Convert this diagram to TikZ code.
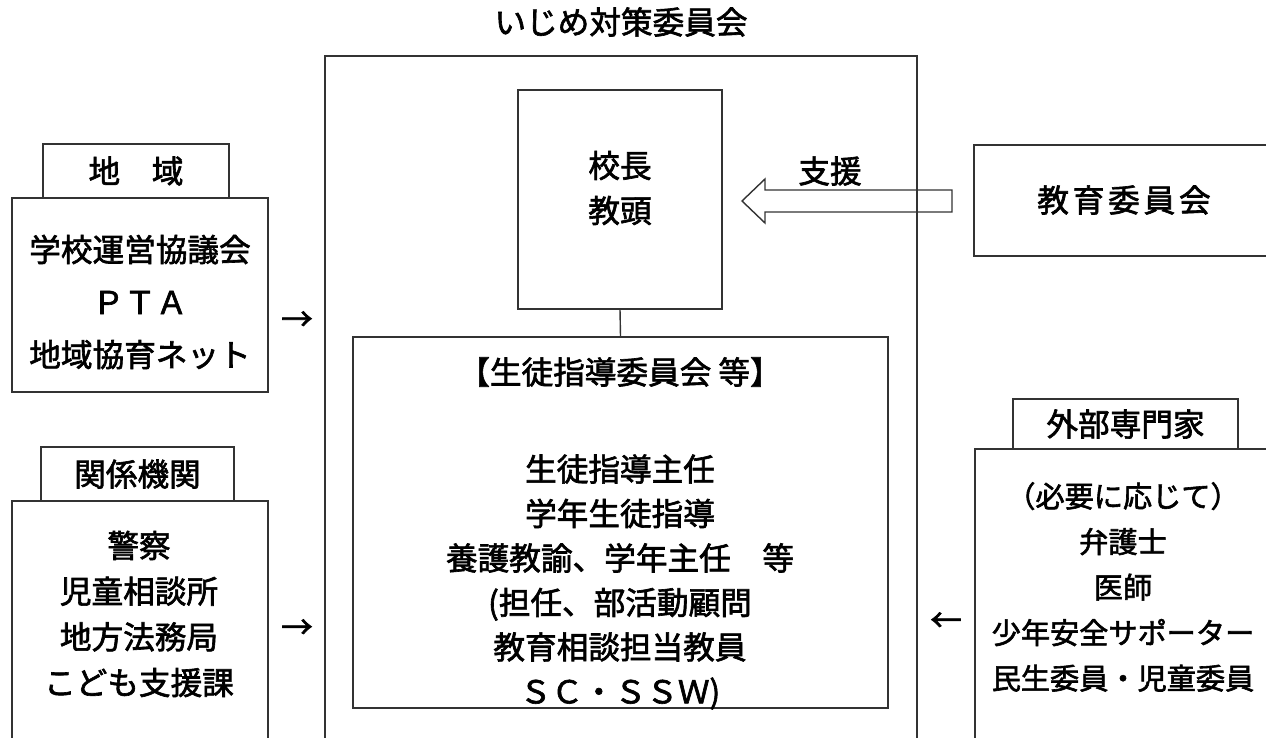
\documentclass[tikz,border=0pt]{standalone}
\usepackage{fontspec}
\setmainfont{Noto Sans CJK JP}[FakeBold=2]
\usetikzlibrary{positioning,fit}
\tikzset{
  boxline/.style={draw=black!80, line width=0.8pt, inner sep=0pt, fit={#1}},
  txt/.style={font=\fontsize{18}{20}\selectfont, inner sep=0pt, align=center},
  leftlines/.style={txt, font=\fontsize{18}{29.9}\selectfont},
  lowlines/.style={txt, font=\fontsize{18}{26}\selectfont},
  midlines/.style={txt, font=\fontsize{18}{25.3}\selectfont},
  rightlines/.style={txt, font=\fontsize{16.6}{25.9}\selectfont},
  headlines/.style={txt, font=\fontsize{18}{25.6}\selectfont},
  bigarrow/.style={draw=black!80, line width=0.8pt, line join=miter}
}

\begin{document}
\begin{tikzpicture}[x=0.2mm,y=-0.2mm]
  \useasboundingbox (0,0) rectangle (1266,737);
  \clip (0,0) rectangle (1266,737);

  % committee
  \node[txt] (title) at (621,22) {いじめ対策委員会};
  \node[boxline={(325,56) (917,760)}] (committee) {};
  \node[boxline={(518,90) (722,309)}] (head) {};
  \node[headlines] (headtext) at (620,188) {校長\\教頭};
  \node[boxline={(353,337) (888,708)}] (guide) {};
  \node[txt] (guidetitle) at (620,372) {【生徒指導委員会 等】};
  \node[midlines] (guidetext) at (620,582)
    {生徒指導主任\\学年生徒指導\\養護教諭、学年主任　等\\(担任、部活動顧問\\教育相談担当教員\\ＳＣ・ＳＳＷ)};
  \draw[black!80, line width=0.8pt] (head.south) -- (guide.north);

  % left side
  \node[boxline={(43,144) (229,198)}] (areatab) {};
  \node[txt] at (areatab.center) {地　域};
  \node[boxline={(12,198) (268,392)}] (area) {};
  \node[leftlines] (areatext) at (140,302) {学校運営協議会\\ＰＴＡ\\地域協育ネット};
  \node[txt] (toarea) at (297,321) {→};

  \node[boxline={(41,447) (234,501)}] (agencytab) {};
  \node[txt] at (agencytab.center) {関係機関};
  \node[boxline={(12,501) (268,760)}] (agency) {};
  \node[lowlines] (agencytext) at (139,614) {警察\\児童相談所\\地方法務局\\こども支援課};
  \node[txt] (toagency) at (297,629) {→};

  % right side
  \node[boxline={(974,145) (1290,256)}] (board) {};
  \node[txt, font=\fontsize{18}{20}\selectfont\addfontfeature{LetterSpace=12}] (boardtext) at (1124,200) {教育委員会};
  \draw[bigarrow] (952,190) -- (765,190) -- (765,179) -- (742,201)
    -- (765,223) -- (765,212) -- (952,212) -- cycle;
  \node[txt] (support) at (830,171) {支援};

  \node[boxline={(1013,399) (1238,449)}] (experttab) {};
  \node[txt] at (experttab.center) {外部専門家};
  \node[boxline={(975,449) (1290,760)}] (expert) {};
  \node[rightlines] (experttext) at (1123,587)
    {（必要に応じて）\\弁護士\\医師\\少年安全サポーター\\民生委員・児童委員};
  \node[txt] (toexpert) at (946,622) {←};
\end{tikzpicture}
\end{document}
